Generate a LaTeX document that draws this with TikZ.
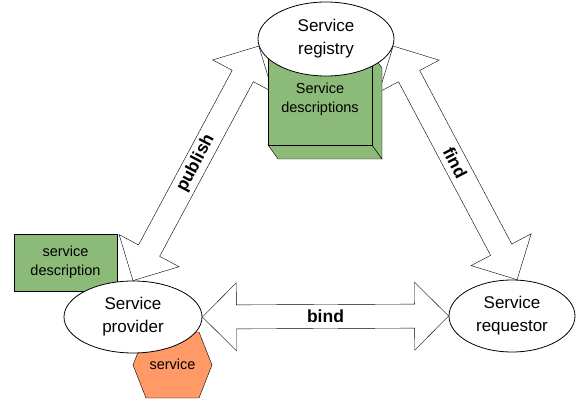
\documentclass[tikz,border=0pt]{standalone}
\usepackage{fontspec}
\setmainfont{Liberation Sans}
\usetikzlibrary{calc,shapes.geometric,backgrounds}
\definecolor{boxgreen}{HTML}{8CBA78}
\definecolor{hexorange}{HTML}{FF9966}
% double-headed block arrow between two points
\newcommand\blockarrow[2]{%
  \coordinate (ba1) at ($(#1)!34pt!(#2)$);
  \coordinate (ba2) at ($(#2)!34pt!(#1)$);
  \draw[arrowbody] (#1) -- ($(ba1)!34pt!90:(#2)$) -- ($(ba1)!12pt!90:(#2)$)
    -- ($(ba2)!12pt!-90:(#1)$) -- ($(ba2)!34pt!-90:(#1)$) -- (#2)
    -- ($(ba2)!34pt!90:(#1)$) -- ($(ba2)!12pt!90:(#1)$)
    -- ($(ba1)!12pt!-90:(#2)$) -- ($(ba1)!34pt!-90:(#2)$) -- cycle;}
\begin{document}
\begin{tikzpicture}[x=1pt,y=-1pt,
  line width=0.8pt,
  svc/.style={ellipse, draw, fill=white, inner sep=0pt, align=center,
    font=\fontsize{17}{23}\selectfont},
  arrowbody/.style={draw, fill=white, line join=miter},
  lbl/.style={font=\fontsize{17.5}{20}\selectfont\bfseries, inner sep=0pt},
  small/.style={align=center, inner sep=0pt, font=\fontsize{14.5}{19}\selectfont},
  greenface/.style={draw, fill=boxgreen}]
\useasboundingbox (0,0) rectangle (583,403);

% the three roles
\node[svc, minimum width=136pt, minimum height=74pt] (reg) at (326,39) {Service\\registry};
\node[svc, minimum width=138pt, minimum height=72pt] (prov) at (133,317) {Service\\provider};
\node[svc, minimum width=126pt, minimum height=72pt] (req) at (512,316) {Service\\requestor};

\begin{pgfonlayer}{background}
  % operations between the roles
  \blockarrow{reg.186}{prov.north}
  \blockarrow{reg.-6}{req.82}
  \blockarrow{prov.east}{req.west}

  % 3D box of stored descriptions
  \draw[greenface] (268,145) -- (372,145) -- (382,159) -- (278,159) -- cycle;
  \draw[greenface] (372,54) -- (382,68) -- (382,159) -- (372,145) -- cycle;
  \draw[greenface] (268,54) rectangle (372,145);

  % provider's own description and service
  \draw[greenface] (14,234) rectangle (117,291);
  \draw[fill=hexorange] (133,365) -- (146,332) -- (199,332) -- (212,365)
    -- (199,398) -- (146,398) -- cycle;
\end{pgfonlayer}

\node[small] (descs) at (320,99) {Service\\descriptions};
\node[small] (desc) at (65.5,262) {service\\description};
\node[small] (serv) at (172.5,364) {service};

\node[lbl, rotate=62.3] (publish) at ($(reg.186)!0.5!(prov.north)$) {publish};
\node[lbl, rotate=-62.9] (find) at ($(reg.-6)!0.5!(req.82)$) {find};
\node[lbl] (bind) at ($(prov.east)!0.5!(req.west)$) {bind};
\end{tikzpicture}
\end{document}
